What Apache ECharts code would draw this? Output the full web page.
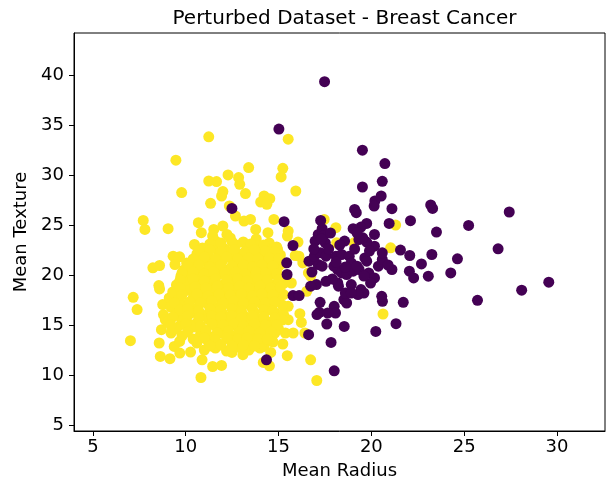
<!DOCTYPE html>
<html>
<head>
<meta charset="utf-8">
<script src="https://cdn.jsdelivr.net/npm/echarts@6/dist/echarts.min.js"></script>
<style>html,body{margin:0;padding:0;background:#fff}#c{width:609px;height:488px}</style>
</head>
<body>
<div id="c"></div>
<script>
const titleText = "Perturbed Dataset - Breast Cancer";
const xTicks = [5, 10, 15, 20, 25, 30];
const yTicks = [5, 10, 15, 20, 25, 30, 35, 40];

// Malignant (purple): [mean radius, mean texture]
const malignant = [
[17.48,39.33],[15.02,34.59],[19.52,32.48],[20.73,31.14],[19.52,28.80],[20.59,29.37],[20.53,27.90],[20.19,27.40],
[20.15,26.90],[21.11,26.63],[19.10,26.56],[19.19,26.23],[23.20,27.00],[23.30,26.66],[27.43,26.30],[22.11,25.43],
[20.96,25.16],[25.24,24.96],[23.51,24.29],[15.30,25.33],[17.27,25.46],[12.49,26.66],[26.83,22.62],[24.64,21.62],
[23.26,22.05],[22.70,21.11],[24.28,20.21],[23.07,19.88],[22.07,21.95],[21.57,22.49],[22.05,20.38],[22.28,19.71],
[21.11,20.55],[29.56,19.28],[28.10,18.48],[25.72,17.47],[21.72,17.27],[20.60,17.37],[20.56,17.87],[21.33,15.13],
[20.24,14.36],[18.54,14.86],[17.60,15.10],[16.62,14.03],[17.83,13.26],[18.00,10.42],[14.35,11.52],[15.78,22.95],
[15.44,21.22],[15.46,20.05],[15.78,17.94],[16.11,17.94],[17.20,16.27],[17.07,16.04],[18.00,16.87],[18.07,16.20],
[17.65,16.20],[17.24,17.27],[18.52,17.54],[18.67,17.20],[18.23,18.88],[18.19,19.20],[18.92,19.04],[19.44,18.54],
[19.60,18.20],[19.28,18.04],[17.56,19.37],[17.04,19.04],[16.73,18.88],[17.14,21.05],[17.35,20.88],[16.64,21.38],
[16.93,21.88],[17.14,24.06],[17.35,24.63],[17.52,23.22],[17.25,22.22],[17.56,21.88],[18.09,21.88],[18.40,22.05],
[18.81,21.88],[18.92,21.21],[17.98,20.88],[18.19,20.55],[18.40,20.21],[18.67,20.05],[19.02,20.38],[19.34,20.55],
[19.65,21.71],[19.75,21.38],[19.23,20.88],[19.86,20.21],[20.17,19.71],[19.96,19.20],[20.38,20.88],[20.59,21.55],
[20.59,22.22],[20.17,22.88],[19.75,23.29],[19.54,23.72],[19.33,23.55],[20.17,24.06],[19.75,25.16],[19.44,24.79],
[19.02,24.63],[19.23,24.22],[18.56,23.39],[16.97,23.39],[18.60,18.20],[18.92,18.20],[17.40,23.90],[16.80,20.30],
[17.90,19.60],[19.60,19.90],[20.90,21.00],[18.30,23.00],[17.70,22.60],[17.30,23.60],[17.80,24.20],[18.10,21.30],
[16.90,22.60],[19.10,22.60],[19.90,22.40],[18.60,20.80]
];

// Benign (yellow): [mean radius, mean texture]
const benign = [
[11.24,33.82],[15.52,33.58],[9.47,31.48],[13.39,30.74],[15.23,30.67],[15.14,29.81],[12.28,30.01],[12.85,29.74],
[12.91,29.07],[11.24,29.40],[11.66,29.34],[9.78,28.24],[12.00,28.34],[11.93,27.90],[13.22,28.14],[15.93,28.40],
[14.22,27.90],[14.53,27.63],[14.04,27.30],[14.37,27.07],[11.34,27.17],[12.35,26.90],[12.68,25.90],[13.14,25.40],
[7.71,25.46],[7.80,24.56],[9.05,24.63],[10.68,25.23],[10.84,24.23],[11.51,24.56],[12.00,24.90],[11.45,23.90],
[12.22,24.06],[13.49,25.56],[13.77,24.56],[14.75,25.56],[14.43,24.23],[15.52,24.39],[15.48,23.90],[16.05,23.29],
[17.46,25.56],[18.09,24.73],[18.13,23.22],[19.07,23.22],[21.31,24.99],[21.04,22.72],[16.10,21.88],[16.31,21.21],
[10.47,23.05],[11.09,22.49],[9.32,21.88],[9.67,21.82],[10.05,21.21],[8.23,20.72],[8.59,20.95],[9.42,21.05],
[9.74,19.88],[9.63,19.20],[8.55,18.94],[8.59,18.61],[7.17,17.77],[7.38,16.54],[8.76,17.04],[9.11,17.71],
[9.84,18.21],[10.26,18.88],[10.63,20.28],[10.47,19.37],[8.80,16.04],[8.90,15.53],[8.69,14.53],[9.21,14.20],
[7.02,13.43],[8.57,13.20],[9.38,12.86],[9.67,13.36],[8.63,11.86],[9.15,11.63],[9.68,12.19],[10.26,12.29],
[9.74,15.03],[10.26,15.03],[10.26,16.20],[10.88,11.52],[11.45,10.85],[11.93,10.96],[10.82,9.75],[12.49,12.26],
[13.08,12.03],[12.72,13.20],[14.22,12.86],[14.58,12.26],[14.18,11.26],[14.51,10.92],[15.47,11.93],[15.23,13.10],
[15.37,14.20],[15.79,14.20],[16.42,14.20],[16.23,15.26],[16.15,16.13],[16.52,18.37],[16.73,11.52],[17.06,9.45],
[20.63,16.10],[15.52,15.53],[15.52,16.87],[15.69,19.20],[16.61,20.21],[16.73,19.88],[15.90,21.95],[14.95,22.55],
[15.02,20.88],[14.95,18.88],[15.27,18.04],[15.27,16.04],[14.75,14.70],[14.64,16.54],[14.27,18.21],
[11.6,23.4],[12.4,23.7],[13.1,23.3],[13.8,23.6],[14.5,23.2],
[10.9,22.7],[11.5,22.9],[12.1,22.6],[12.7,23.0],[13.3,22.7],[13.9,22.9],[14.4,22.6],[14.9,22.8],
[10.6,22.1],[11.2,21.9],[11.8,22.2],[12.4,21.8],[13.0,22.1],[13.5,21.9],[14.1,22.2],[14.6,21.8],[15.1,22.0],
[10.3,21.2],[10.9,21.4],[11.4,21.1],[12.0,21.5],[12.6,21.2],[13.2,21.4],[13.7,21.1],[14.3,21.3],[14.8,21.5],[15.3,21.2],
[9.9,20.5],[10.5,20.7],[11.1,20.4],[11.7,20.8],[12.2,20.5],[12.8,20.7],[13.4,20.4],[13.9,20.6],[14.4,20.8],[14.9,20.5],
[10.1,19.8],[10.7,20.0],[11.3,19.7],[11.8,20.1],[12.4,19.8],[13.0,20.0],[13.5,19.7],[14.1,19.9],[14.6,20.1],[15.2,19.8],
[9.5,19.0],[10.0,19.2],[10.8,18.9],[11.4,19.3],[12.0,19.0],[12.5,19.2],[13.1,18.9],[13.6,19.1],[14.2,19.3],[14.7,19.0],[15.3,19.2],
[9.3,18.3],[10.2,18.5],[10.9,18.2],[11.5,18.6],[12.1,18.3],[12.7,18.5],[13.2,18.2],[13.8,18.4],[14.3,18.6],[14.9,18.3],
[9.6,17.5],[10.4,17.7],[11.0,17.4],[11.6,17.8],[12.2,17.5],[12.8,17.7],[13.3,17.4],[13.9,17.6],[14.5,17.8],[15.0,17.5],
[9.2,16.8],[9.9,17.0],[10.6,16.7],[11.2,17.1],[11.8,16.8],[12.4,17.0],[12.9,16.7],[13.5,16.9],[14.1,17.1],[14.6,16.8],[15.2,17.0],
[9.5,16.1],[10.3,16.3],[10.9,16.0],[11.5,16.4],[12.0,16.1],[12.6,16.3],[13.1,16.0],[13.7,16.2],[14.3,16.4],[14.9,16.1],
[9.0,15.3],[9.8,15.5],[10.6,15.2],[11.2,15.6],[11.7,15.3],[12.3,15.5],[12.9,15.2],[13.4,15.4],[14.0,15.6],[14.6,15.3],[15.2,15.5],
[9.5,14.6],[10.4,14.8],[11.0,14.5],[11.6,14.9],[12.2,14.6],[12.8,14.8],[13.3,14.5],[13.9,14.7],[14.5,14.9],[15.0,14.6],
[9.8,13.9],[10.8,14.1],[11.3,13.8],[11.9,14.2],[12.5,13.9],[13.1,14.1],[13.6,13.8],[14.2,14.0],[14.8,14.2],
[10.6,13.2],[11.2,13.4],[11.8,13.1],[12.4,13.5],[13.0,13.2],[13.5,13.4],[14.1,13.1],[14.7,13.3],
[11.0,12.5],[11.6,12.7],[12.2,12.4],[12.8,12.8],[13.4,12.5],[14.0,12.7],
[11.3,23.1],[11.9,23.2],[12.5,23.3],[13.5,23.1],[14.2,23.0],
[10.7,22.4],[11.3,22.5],[11.9,22.3],[12.6,22.5],[13.2,22.3],[13.7,22.5],[14.3,22.4],[14.8,22.3],
[10.4,21.6],[11.0,21.8],[11.6,21.6],[12.2,21.8],[12.8,21.6],[13.4,21.7],[13.9,21.6],[14.5,21.7],[15.0,21.6],
[10.1,20.9],[10.7,21.0],[11.3,20.8],[11.9,21.0],[12.5,20.9],[13.1,21.0],[13.6,20.8],[14.1,21.0],[14.7,20.9],
[9.8,20.2],[10.4,20.3],[11.0,20.1],[11.5,20.3],[12.1,20.2],[12.7,20.3],[13.2,20.1],[13.8,20.3],[14.3,20.2],[14.9,20.1],
[9.7,19.5],[10.4,19.6],[11.0,19.4],[11.6,19.6],[12.2,19.5],[12.8,19.6],[13.3,19.4],[13.9,19.6],[14.4,19.5],[15.0,19.5],
[9.7,18.7],[10.5,18.8],[11.1,18.7],[11.7,18.9],[12.3,18.7],[12.9,18.9],[13.4,18.7],[14.0,18.9],[14.6,18.7],[15.1,18.8],
[9.8,18.0],[10.6,18.1],[11.2,17.9],[11.8,18.1],[12.4,18.0],[13.0,18.1],[13.6,17.9],[14.1,18.1],[14.7,18.0],
[9.4,17.2],[10.2,17.3],[10.8,17.2],[11.4,17.4],[12.0,17.2],[12.6,17.4],[13.1,17.2],[13.7,17.3],[14.3,17.2],[14.8,17.3],
[9.7,16.5],[10.1,16.6],[10.7,16.4],[11.3,16.6],[11.9,16.5],[12.5,16.6],[13.0,16.4],[13.6,16.6],[14.2,16.5],[14.7,16.4],
[9.3,15.8],[10.1,15.9],[10.7,15.7],[11.4,15.9],[11.9,15.8],[12.5,15.9],[13.0,15.7],[13.6,15.9],[14.2,15.8],[14.8,15.7],
[9.2,15.0],[10.0,15.1],[10.8,14.9],[11.4,15.1],[12.0,15.0],[12.6,15.1],[13.1,14.9],[13.7,15.1],[14.3,15.0],[14.9,15.0],
[10.1,14.3],[11.1,14.4],[11.7,14.2],[12.3,14.4],[12.9,14.3],[13.4,14.4],[14.0,14.2],[14.6,14.3],
[10.4,13.6],[11.0,13.7],[11.6,13.5],[12.2,13.7],[12.8,13.6],[13.3,13.7],[13.9,13.6],[14.4,13.6],
[11.3,12.9],[11.9,13.0],[12.5,12.9],[13.1,13.0],[13.7,12.9]
];

const chart = echarts.init(document.getElementById('c'), null, {renderer: 'canvas'});
const font = 'DejaVu Sans';
chart.setOption({
  animation: false,
  backgroundColor: '#fff',
  title: {
    text: titleText, left: 339.5, top: 4, textAlign: 'center',
    textStyle: {fontFamily: font, fontSize: 20, fontWeight: 'normal', color: '#000'}
  },
  grid: {left: 74, right: 4, top: 33, bottom: 57, show: true, borderColor: '#000', borderWidth: 1, backgroundColor: 'transparent'},
  xAxis: {
    type: 'value', min: 3.98, max: 32.59,
    name: 'Mean Radius', nameLocation: 'middle', nameGap: 31,
    nameTextStyle: {fontFamily: font, fontSize: 18, color: '#000'},
    axisLine: {show: true, onZero: false, lineStyle: {color: '#000', width: 1}},
    axisTick: {show: true, inside: false, length: 5, customValues: xTicks, lineStyle: {color: '#000'}},
    axisLabel: {fontFamily: font, fontSize: 18, color: '#000', margin: 7, customValues: xTicks},
    splitLine: {show: false}
  },
  yAxis: {
    type: 'value', min: 4.4, max: 44.2,
    name: 'Mean Texture', nameLocation: 'middle', nameGap: 40, nameRotate: 90,
    nameTextStyle: {fontFamily: font, fontSize: 18, color: '#000'},
    axisLine: {show: true, onZero: false, lineStyle: {color: '#000', width: 1}},
    axisTick: {show: true, inside: false, length: 5, customValues: yTicks, lineStyle: {color: '#000'}},
    axisLabel: {fontFamily: font, fontSize: 18, color: '#000', margin: 10, customValues: yTicks},
    splitLine: {show: false}
  },
  series: [
    {type: 'scatter', name: 'benign', data: benign, symbolSize: 11, itemStyle: {color: '#fde725', opacity: 1}, z: 2},
    {type: 'scatter', name: 'malignant', data: malignant, symbolSize: 11, itemStyle: {color: '#440154', opacity: 1}, z: 3}
  ]
});
</script>
</body>
</html>
